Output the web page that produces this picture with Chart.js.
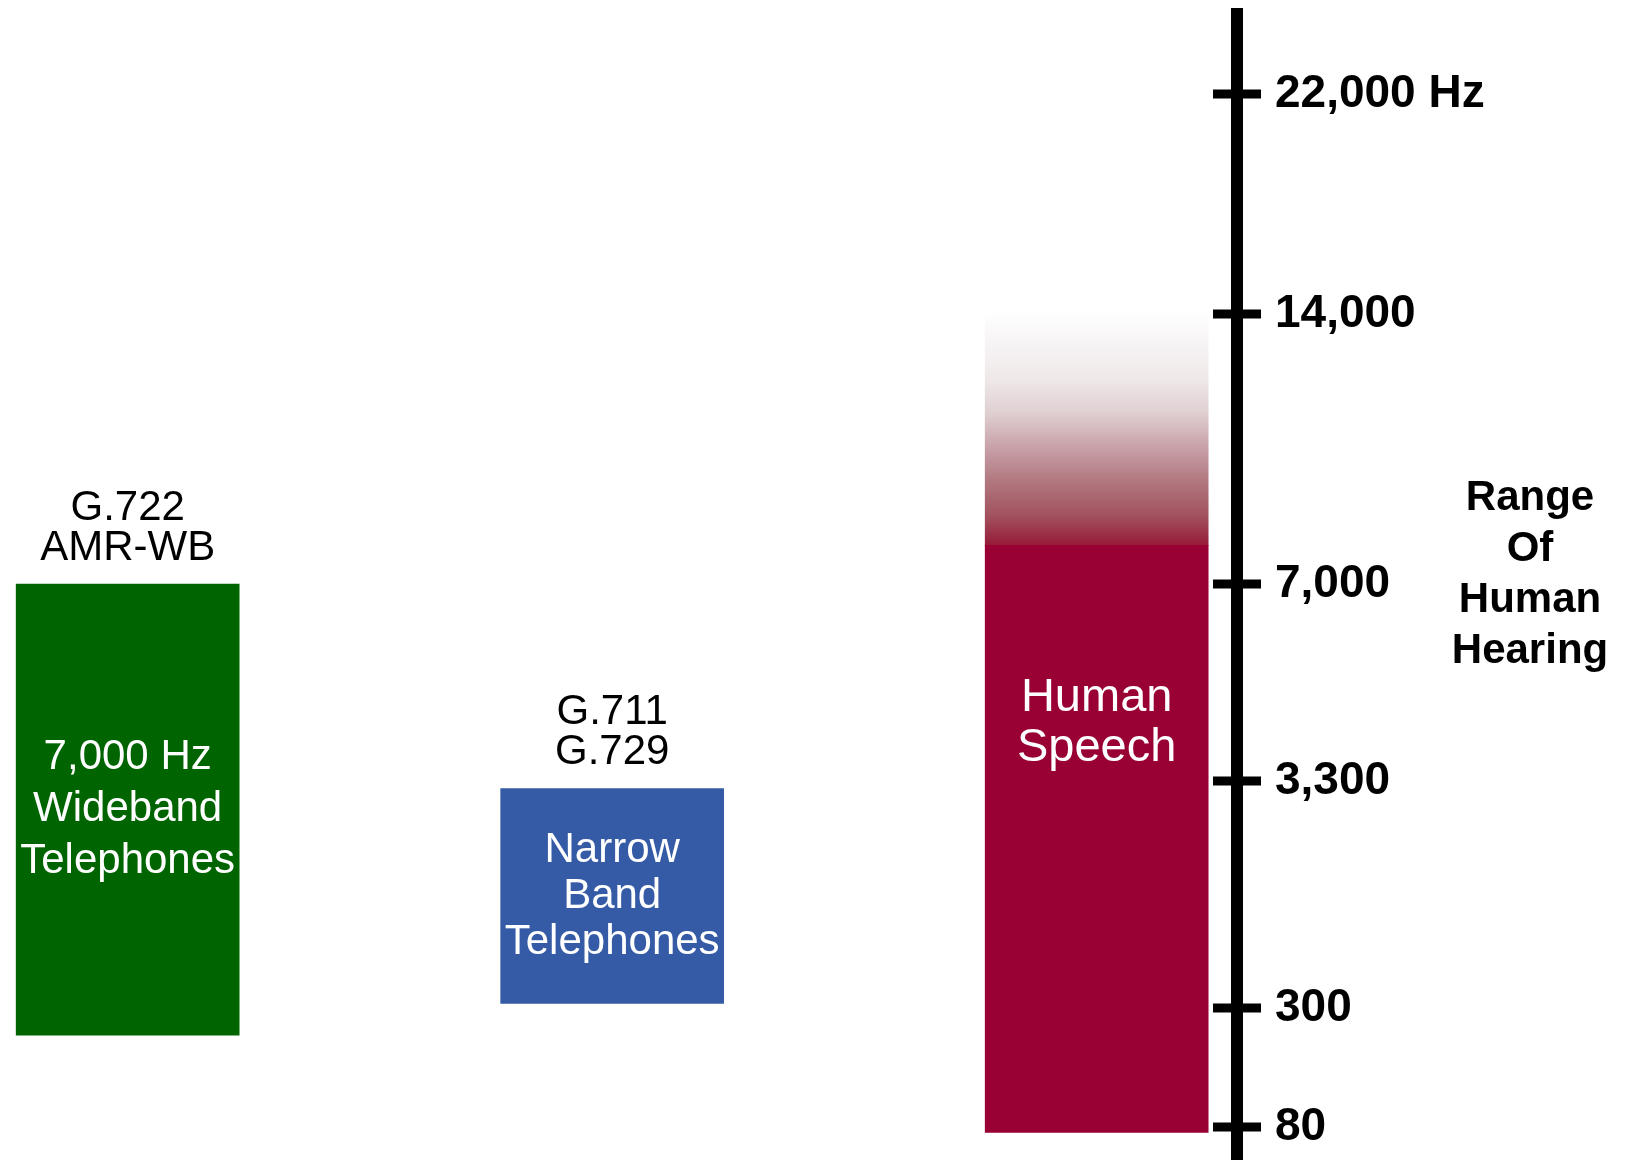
<!DOCTYPE html>
<html lang="en">
<head>
    <meta charset="UTF-8">
    <title>Telephone Bandwidth and Human Hearing</title>
    <script src="https://cdn.jsdelivr.net/npm/chart.js"></script>
    <style>
        body { margin: 0; background: #fff; overflow: hidden; }
        #wrap { width: 1629px; height: 1160px; position: relative; }
    </style>
</head>
<body>
    <div id="wrap"><canvas id="bandChart"></canvas></div>

    <script>
        // frequency bands, in Hz
        const bands = ["Wideband", "Narrowband", "Speech"];
        const bandLow = [250, 360, 70];
        const bandHigh = [7000, 3200, 8000];
        // speech fades out above the solid part
        const fadeLow = [null, null, 8000];
        const fadeHigh = [null, null, 14000];

        const bandText = [["7,000 Hz", "Wideband", "Telephones"], ["Narrow", "Band", "Telephones"], ["Human", "Speech"]];
        const codecText = [["G.722", "AMR-WB"], ["G.711", "G.729"], []];

        const tickValues = [80, 300, 3300, 7000, 14000, 22000];
        const tickLabels = ["80", "300", "3,300", "7,000", "14,000", "22,000 Hz"];
        const sideTitle = ["Range", "Of", "Human", "Hearing"];

        // where each tick sits along the axis (0 = bottom, 1 = top)
        const tickPlaces = [0.0288, 0.1326, 0.3307, 0.5026, 0.7382, 0.9302];

        const bandColors = ["#006400", "#365ba6", "#990033"];
        const fadeStops = [
            [0, "rgb(150,26,56)"], [0.13, "rgb(162,82,94)"], [0.28, "rgb(178,120,128)"],
            [0.425, "rgb(200,162,168)"], [0.575, "rgb(224,208,210)"], [0.72, "rgb(239,232,233)"],
            [1, "rgb(254,254,254)"]
        ];
        const innerSize = [42, 42, 47];
        const innerLead = [52, 46, 50];
        const FONT = "'Liberation Sans', Arial, sans-serif";

        // y scale that is linear between hand-placed ticks
        class SteppedScale extends Chart.Scale {
            static id = "stepped";
            static defaults = {};

            determineDataLimits() {
                this.min = this.options.stops[0];
                this.max = this.options.stops[this.options.stops.length - 1];
            }
            buildTicks() {
                return this.options.stops.map(v => ({ value: v }));
            }
            toDecimal(value) {
                const vals = this.options.stops, pos = this.options.places;
                let i = 1;
                while (i < vals.length - 1 && value > vals[i]) i++;
                const t = (value - vals[i - 1]) / (vals[i] - vals[i - 1]);
                return pos[i - 1] + t * (pos[i] - pos[i - 1]);
            }
            getPixelForValue(value) {
                if (value === null || value === undefined) return NaN;
                return this.getPixelForDecimal(this.toDecimal(value));
            }
            getValueForPixel(pixel) {
                const d = this.getDecimalForPixel(pixel);
                const vals = this.options.stops, pos = this.options.places;
                let i = 1;
                while (i < pos.length - 1 && d > pos[i]) i++;
                const t = (d - pos[i - 1]) / (pos[i] - pos[i - 1]);
                return vals[i - 1] + t * (vals[i] - vals[i - 1]);
            }
            getLabelForValue(value) {
                return String(value);
            }
        }
        Chart.register(SteppedScale);

        function fadeFill(context) {
            const chart = context.chart;
            const y = chart.scales.y;
            if (!chart.chartArea || !y || !context.raw) return bandColors[2];
            const y0 = y.getPixelForValue(context.raw.y[0]);
            const y1 = y.getPixelForValue(context.raw.y[1]);
            const g = chart.ctx.createLinearGradient(0, y0, 0, y1);
            fadeStops.forEach(s => g.addColorStop(s[0], s[1]));
            return g;
        }

        const bandLabels = {
            id: "bandLabels",
            afterDatasetsDraw(chart) {
                const ctx = chart.ctx;
                const solid = chart.getDatasetMeta(0).data;
                const fade = chart.getDatasetMeta(1).data;
                ctx.save();
                ctx.textAlign = "center";
                ctx.textBaseline = "middle";
                solid.forEach((bar, i) => {
                    // the band runs up through its faded part, if it has one
                    let top = bar.y;
                    fade.forEach(f => { if (Math.abs(f.x - bar.x) < 1) top = Math.min(top, f.y); });
                    const mid = (top + bar.base) / 2;

                    const lines = bandText[i];
                    ctx.fillStyle = "#fff";
                    ctx.font = innerSize[i] + "px " + FONT;
                    lines.forEach((t, k) => {
                        ctx.fillText(t, bar.x, mid + (k - (lines.length - 1) / 2) * innerLead[i]);
                    });

                    const codecs = codecText[i];
                    ctx.fillStyle = "#000";
                    ctx.font = "42px " + FONT;
                    codecs.forEach((t, k) => {
                        ctx.fillText(t, bar.x, bar.y - 36 - (codecs.length - 1 - k) * 40);
                    });
                });
                ctx.restore();
            },
            afterDraw(chart) {
                const ctx = chart.ctx;
                const y = chart.scales.y;
                ctx.save();
                // tick marks crossing the axis line
                ctx.strokeStyle = "#000";
                ctx.lineWidth = 9;
                y.ticks.forEach(t => {
                    const py = y.getPixelForValue(t.value);
                    ctx.beginPath();
                    ctx.moveTo(y.left - 24, py);
                    ctx.lineTo(y.left + 24, py);
                    ctx.stroke();
                });

                ctx.fillStyle = "#000";
                ctx.font = "bold 42px " + FONT;
                ctx.textAlign = "center";
                ctx.textBaseline = "middle";
                const cx = y.left + 293;
                const cy = (chart.chartArea.top + chart.chartArea.bottom) / 2 - 12.5;
                sideTitle.forEach((t, k) => {
                    ctx.fillText(t, cx, cy + (k - (sideTitle.length - 1) / 2) * 51);
                });
                ctx.restore();
            }
        };

        new Chart(document.getElementById("bandChart"), {
            type: "bar",
            data: {
                datasets: [{
                    data: bands.map((b, i) => ({ x: i, y: [bandLow[i], bandHigh[i]] })),
                    backgroundColor: bandColors,
                    barThickness: 223,
                    grouped: false
                }, {
                    data: bands.map((b, i) => fadeLow[i] === null ? null : { x: i, y: [fadeLow[i], fadeHigh[i]] })
                               .filter(Boolean),
                    backgroundColor: fadeFill,
                    barThickness: 223,
                    grouped: false
                }]
            },
            options: {
                responsive: true,
                maintainAspectRatio: false,
                animation: false,
                layout: { padding: { top: 14, left: 0, right: 0, bottom: 0 } },
                plugins: {
                    legend: { display: false },
                    tooltip: { enabled: false }
                },
                scales: {
                    x: {
                        type: "linear",
                        display: false,
                        offset: false,
                        grid: { offset: false },
                        min: -0.2635,
                        max: 2.2896
                    },
                    y: {
                        type: "stepped",
                        position: "right",
                        stops: tickValues,
                        places: tickPlaces,
                        grid: { display: false, drawTicks: false },
                        border: { display: true, color: "#000", width: 12 },
                        ticks: {
                            autoSkip: false,
                            padding: 38,
                            color: "#000",
                            font: { family: FONT, size: 46, weight: "bold" },
                            callback: (v, i) => tickLabels[i]
                        },
                        afterFit(scale) {
                            scale.width = 392;
                            scale.paddingTop = 0;
                            scale.paddingBottom = 0;
                        }
                    }
                }
            },
            plugins: [bandLabels]
        });
    </script>
</body>
</html>
